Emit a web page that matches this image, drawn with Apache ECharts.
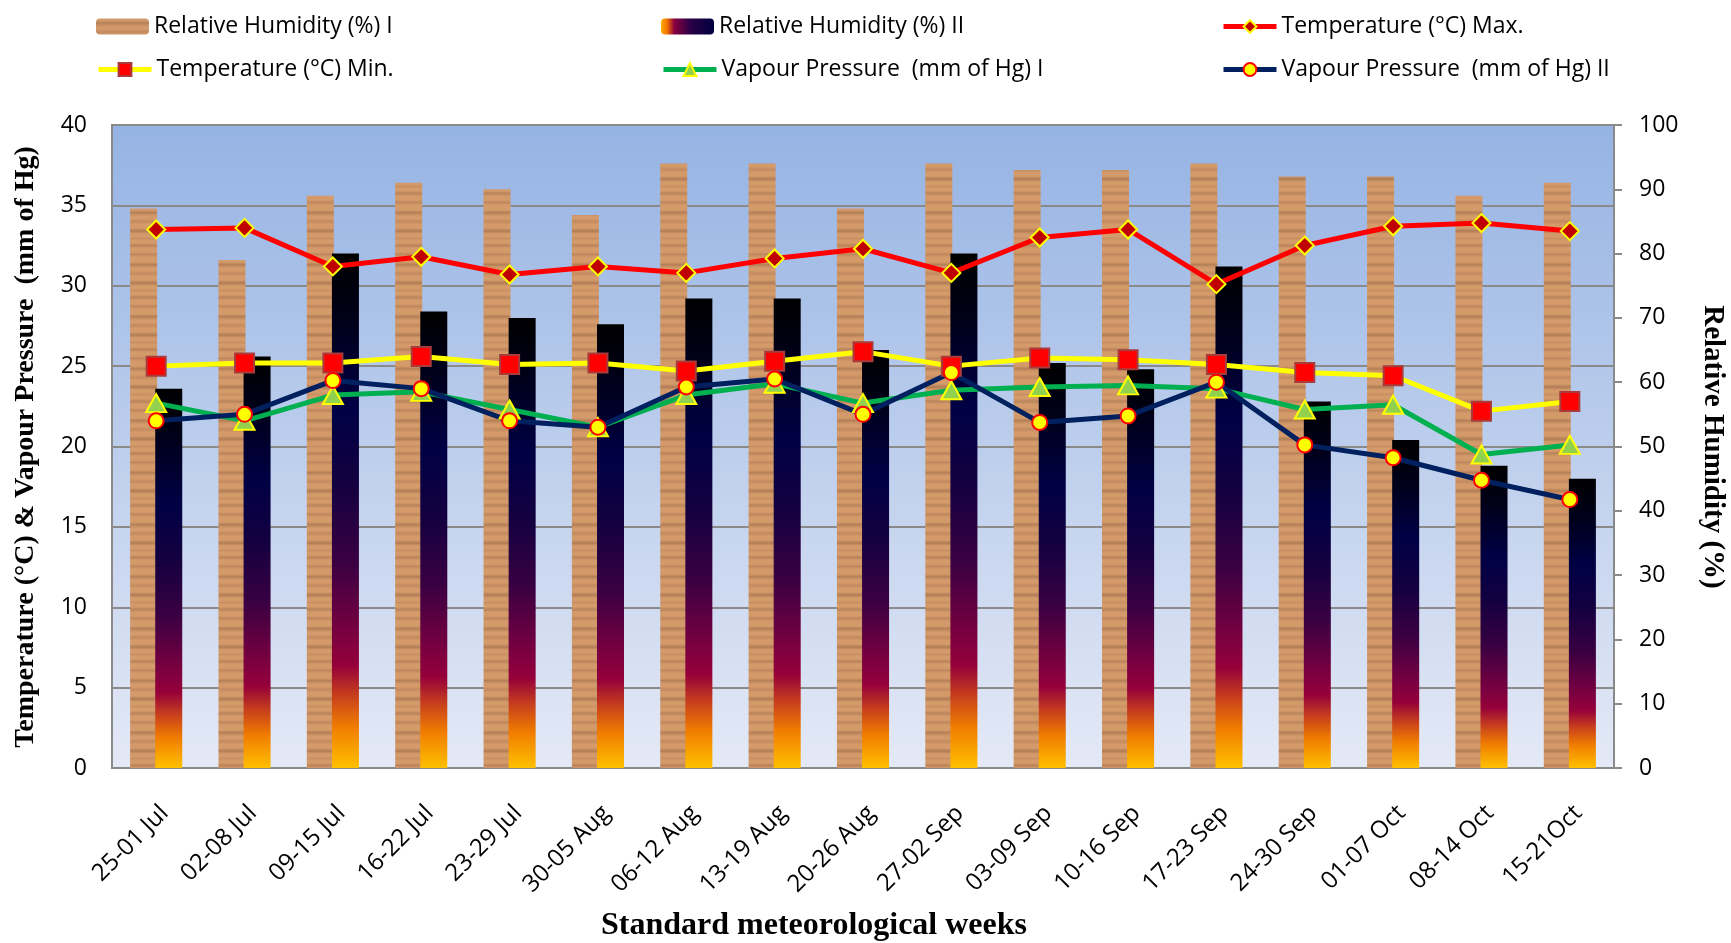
<!DOCTYPE html>
<html>
<head>
<meta charset="utf-8">
<title>Weather parameters by standard meteorological week</title>
<script src="https://cdn.jsdelivr.net/npm/echarts@6/dist/echarts.min.js"></script>
<style>
  html, body { margin: 0; padding: 0; background: #ffffff; }
  #chart { width: 1731px; height: 943px; }
</style>
</head>
<body>
<div id="chart"></div>
<script>
// Standard meteorological weeks
const weeks = ['25-01 Jul', '02-08 Jul', '09-15 Jul', '16-22 Jul', '23-29 Jul', '30-05 Aug',
  '06-12 Aug', '13-19 Aug', '20-26 Aug', '27-02 Sep', '03-09 Sep', '10-16 Sep',
  '17-23 Sep', '24-30 Sep', '01-07 Oct', '08-14 Oct', '15-21Oct'];

// Relative humidity (%), right axis
const rhI  = [87, 79, 89, 91, 90, 86, 94, 94, 87, 94, 93, 93, 94, 92, 92, 89, 91];
const rhII = [59, 64, 80, 71, 70, 69, 73, 73, 65, 80, 63, 62, 78, 57, 51, 47, 45];

// Temperature (°C), left axis
const tMax = [33.5, 33.6, 31.2, 31.8, 30.7, 31.2, 30.8, 31.7, 32.3, 30.8, 33.0, 33.5, 30.1, 32.5, 33.7, 33.9, 33.4];
const tMin = [25.0, 25.2, 25.2, 25.6, 25.1, 25.2, 24.7, 25.3, 25.9, 25.0, 25.5, 25.4, 25.1, 24.6, 24.4, 22.2, 22.8];

// Vapour pressure (mm of Hg), left axis
const vpI  = [22.7, 21.6, 23.2, 23.4, 22.3, 21.2, 23.2, 23.9, 22.7, 23.5, 23.7, 23.8, 23.6, 22.3, 22.6, 19.5, 20.1];
const vpII = [21.6, 22.0, 24.1, 23.6, 21.6, 21.2, 23.7, 24.2, 22.0, 24.6, 21.5, 21.9, 24.0, 20.1, 19.3, 17.9, 16.7];

const NAMES = {
  rhI: 'Relative Humidity (%) I',
  rhII: 'Relative Humidity (%) II',
  tMax: 'Temperature (°C) Max.',
  tMin: 'Temperature (°C) Min.',
  vpI: 'Vapour Pressure  (mm of Hg) I',
  vpII: 'Vapour Pressure  (mm of Hg) II'
};

// Wood-grain style fill: soft horizontal bands of darker brown
function woodPattern() {
  const c = document.createElement('canvas');
  c.width = 4; c.height = 52;
  const ctx = c.getContext('2d');
  const bands = [0, 0, 0.5, 1.5, 2.5, 2, 1, 0.5, 0, 0, 0, 0.5, 1, 1.5, 1, 0.5, 0, 0, 0, 0,
    0.5, 1.5, 2.5, 2.5, 1.5, 0.5, 0, 0, 0, 0.5, 1, 0.5, 0, 0, 0, 0.5, 1.5, 2, 1.5, 0.5,
    0, 0, 0, 0, 0.5, 1, 2, 1, 0.5, 0, 0, 0];
  for (let y = 0; y < c.height; y++) {
    const s = bands[y];
    ctx.fillStyle = 'rgb(' + Math.round(212 - s * 12) + ',' + Math.round(154 - s * 10) + ',' + Math.round(106 - s * 7) + ')';
    ctx.fillRect(0, y, c.width, 1);
  }
  return c;
}
const woodFill = { image: woodPattern(), repeat: 'repeat' };

// Dark-to-sunset gradient for the second humidity series (top -> bottom)
const sunsetStops = [
  { offset: 0.00, color: '#000000' },
  { offset: 0.14, color: '#00001c' },
  { offset: 0.30, color: '#000045' },
  { offset: 0.45, color: '#140040' },
  { offset: 0.60, color: '#3a0042' },
  { offset: 0.74, color: '#7a0040' },
  { offset: 0.80, color: '#95003a' },
  { offset: 0.86, color: '#c8401c' },
  { offset: 0.92, color: '#f07c00' },
  { offset: 1.00, color: '#ffc000' }
];
const sunsetFill = new echarts.graphic.LinearGradient(0, 0, 0, 1, sunsetStops);
const sunsetLegend = new echarts.graphic.LinearGradient(0, 0, 1, 0, [
  { offset: 0.00, color: '#ffb000' },
  { offset: 0.12, color: '#f07000' },
  { offset: 0.25, color: '#8a0040' },
  { offset: 0.55, color: '#2a0045' },
  { offset: 1.00, color: '#000040' }
]);

const FONT = '"Open Sans", "Noto Sans", sans-serif';
const TITLE_FONT = '"Liberation Serif", "DejaVu Serif", serif';
const GRID_GREY = '#8a8a8a';

function legendAt(name, left, top, extra) {
  const item = Object.assign({ name: name }, extra || {});
  return {
    data: [item],
    left: left, top: top,
    padding: 0,
    orient: 'horizontal',
    itemWidth: 53, itemHeight: 16,
    selectedMode: false,
    textStyle: { fontFamily: FONT, fontSize: 23, color: '#000' }
  };
}

const chart = echarts.init(document.getElementById('chart'), null, { renderer: 'canvas' });

chart.setOption({
  animation: false,
  backgroundColor: '#ffffff',
  legend: [
    legendAt(NAMES.rhI, 96, 15),
    legendAt(NAMES.rhII, 661, 15, { itemStyle: { color: sunsetLegend } }),
    legendAt(NAMES.tMax, 1221, 15, { lineStyle: { width: 5, color: '#ff0000' } }),
    legendAt(NAMES.tMin, 96, 58, { lineStyle: { width: 5, color: '#ffff00' } }),
    legendAt(NAMES.vpI, 661, 58, { lineStyle: { width: 5, color: '#00b050' } }),
    legendAt(NAMES.vpII, 1221, 58, { lineStyle: { width: 5, color: '#002060' } })
  ],
  grid: {
    left: 112, right: 117, top: 125, bottom: 175,
    show: true,
    borderColor: GRID_GREY, borderWidth: 2,
    backgroundColor: new echarts.graphic.LinearGradient(0, 0, 0, 1, [
      { offset: 0, color: '#95b3e3' },
      { offset: 1, color: '#e4e9f6' }
    ])
  },
  xAxis: {
    type: 'category',
    data: weeks,
    axisLine: { show: true, lineStyle: { color: GRID_GREY, width: 2 } },
    axisTick: { show: false },
    axisLabel: {
      rotate: 45, margin: 33, verticalAlign: 'top', align: 'right',
      fontFamily: FONT, fontSize: 24, color: '#000', interval: 0
    }
  },
  yAxis: [
    {
      type: 'value', min: 0, max: 40, interval: 5, position: 'left',
      axisLine: { show: true, lineStyle: { color: GRID_GREY, width: 2 } },
      axisTick: { show: false },
      splitLine: { show: true, lineStyle: { color: GRID_GREY, width: 2 } },
      axisLabel: { margin: 25, fontFamily: FONT, fontSize: 23, color: '#000' }
    },
    {
      type: 'value', min: 0, max: 100, interval: 10, position: 'right',
      axisLine: { show: true, lineStyle: { color: GRID_GREY, width: 2 } },
      axisTick: { show: true, length: 8, lineStyle: { color: GRID_GREY, width: 2 } },
      splitLine: { show: false },
      axisLabel: { margin: 25, fontFamily: FONT, fontSize: 23, color: '#000' }
    }
  ],
  series: [
    {
      name: NAMES.rhI, type: 'bar', yAxisIndex: 1, data: rhI,
      barWidth: 27, barGap: '-7%',
      itemStyle: { color: woodFill },
      emphasis: { disabled: true }
    },
    {
      name: NAMES.rhII, type: 'bar', yAxisIndex: 1, data: rhII,
      barWidth: 27,
      itemStyle: { color: sunsetFill },
      emphasis: { disabled: true }
    },
    {
      name: NAMES.tMax, type: 'line', yAxisIndex: 0, data: tMax,
      symbol: 'diamond', symbolSize: 18,
      lineStyle: { color: '#ff0000', width: 5 },
      itemStyle: { color: '#c00000', borderColor: '#ffff00', borderWidth: 2 },
      emphasis: { disabled: true }
    },
    {
      name: NAMES.tMin, type: 'line', yAxisIndex: 0, data: tMin,
      symbol: 'rect', symbolSize: 19,
      lineStyle: { color: '#ffff00', width: 5 },
      itemStyle: { color: '#ff0000', borderColor: '#a83c3c', borderWidth: 2 },
      emphasis: { disabled: true }
    },
    {
      name: NAMES.vpI, type: 'line', yAxisIndex: 0, data: vpI,
      symbol: 'triangle', symbolSize: [20, 18],
      lineStyle: { color: '#00b050', width: 5 },
      itemStyle: { color: '#92d050', borderColor: '#ffff00', borderWidth: 2 },
      emphasis: { disabled: true }
    },
    {
      name: NAMES.vpII, type: 'line', yAxisIndex: 0, data: vpII,
      symbol: 'circle', symbolSize: 15,
      lineStyle: { color: '#002060', width: 5 },
      itemStyle: { color: '#ffff00', borderColor: '#ff0000', borderWidth: 2 },
      emphasis: { disabled: true }
    }
  ],
  graphic: [
    {
      type: 'text', x: 26, y: 447, rotation: Math.PI / 2,
      style: {
        text: 'Temperature (°C) & Vapour Pressure  (mm of Hg)',
        fontFamily: TITLE_FONT, fontWeight: 'bold', fontSize: 28, fill: '#000',
        align: 'center', verticalAlign: 'middle'
      }
    },
    {
      type: 'text', x: 1712, y: 447, rotation: -Math.PI / 2,
      style: {
        text: 'Relative Humidity (%)',
        fontFamily: TITLE_FONT, fontWeight: 'bold', fontSize: 29, fill: '#000',
        align: 'center', verticalAlign: 'middle'
      }
    },
    {
      type: 'text', x: 814, y: 926,
      style: {
        text: 'Standard meteorological weeks',
        fontFamily: TITLE_FONT, fontWeight: 'bold', fontSize: 32, fill: '#000',
        align: 'center', verticalAlign: 'middle'
      }
    }
  ]
});
</script>
</body>
</html>
